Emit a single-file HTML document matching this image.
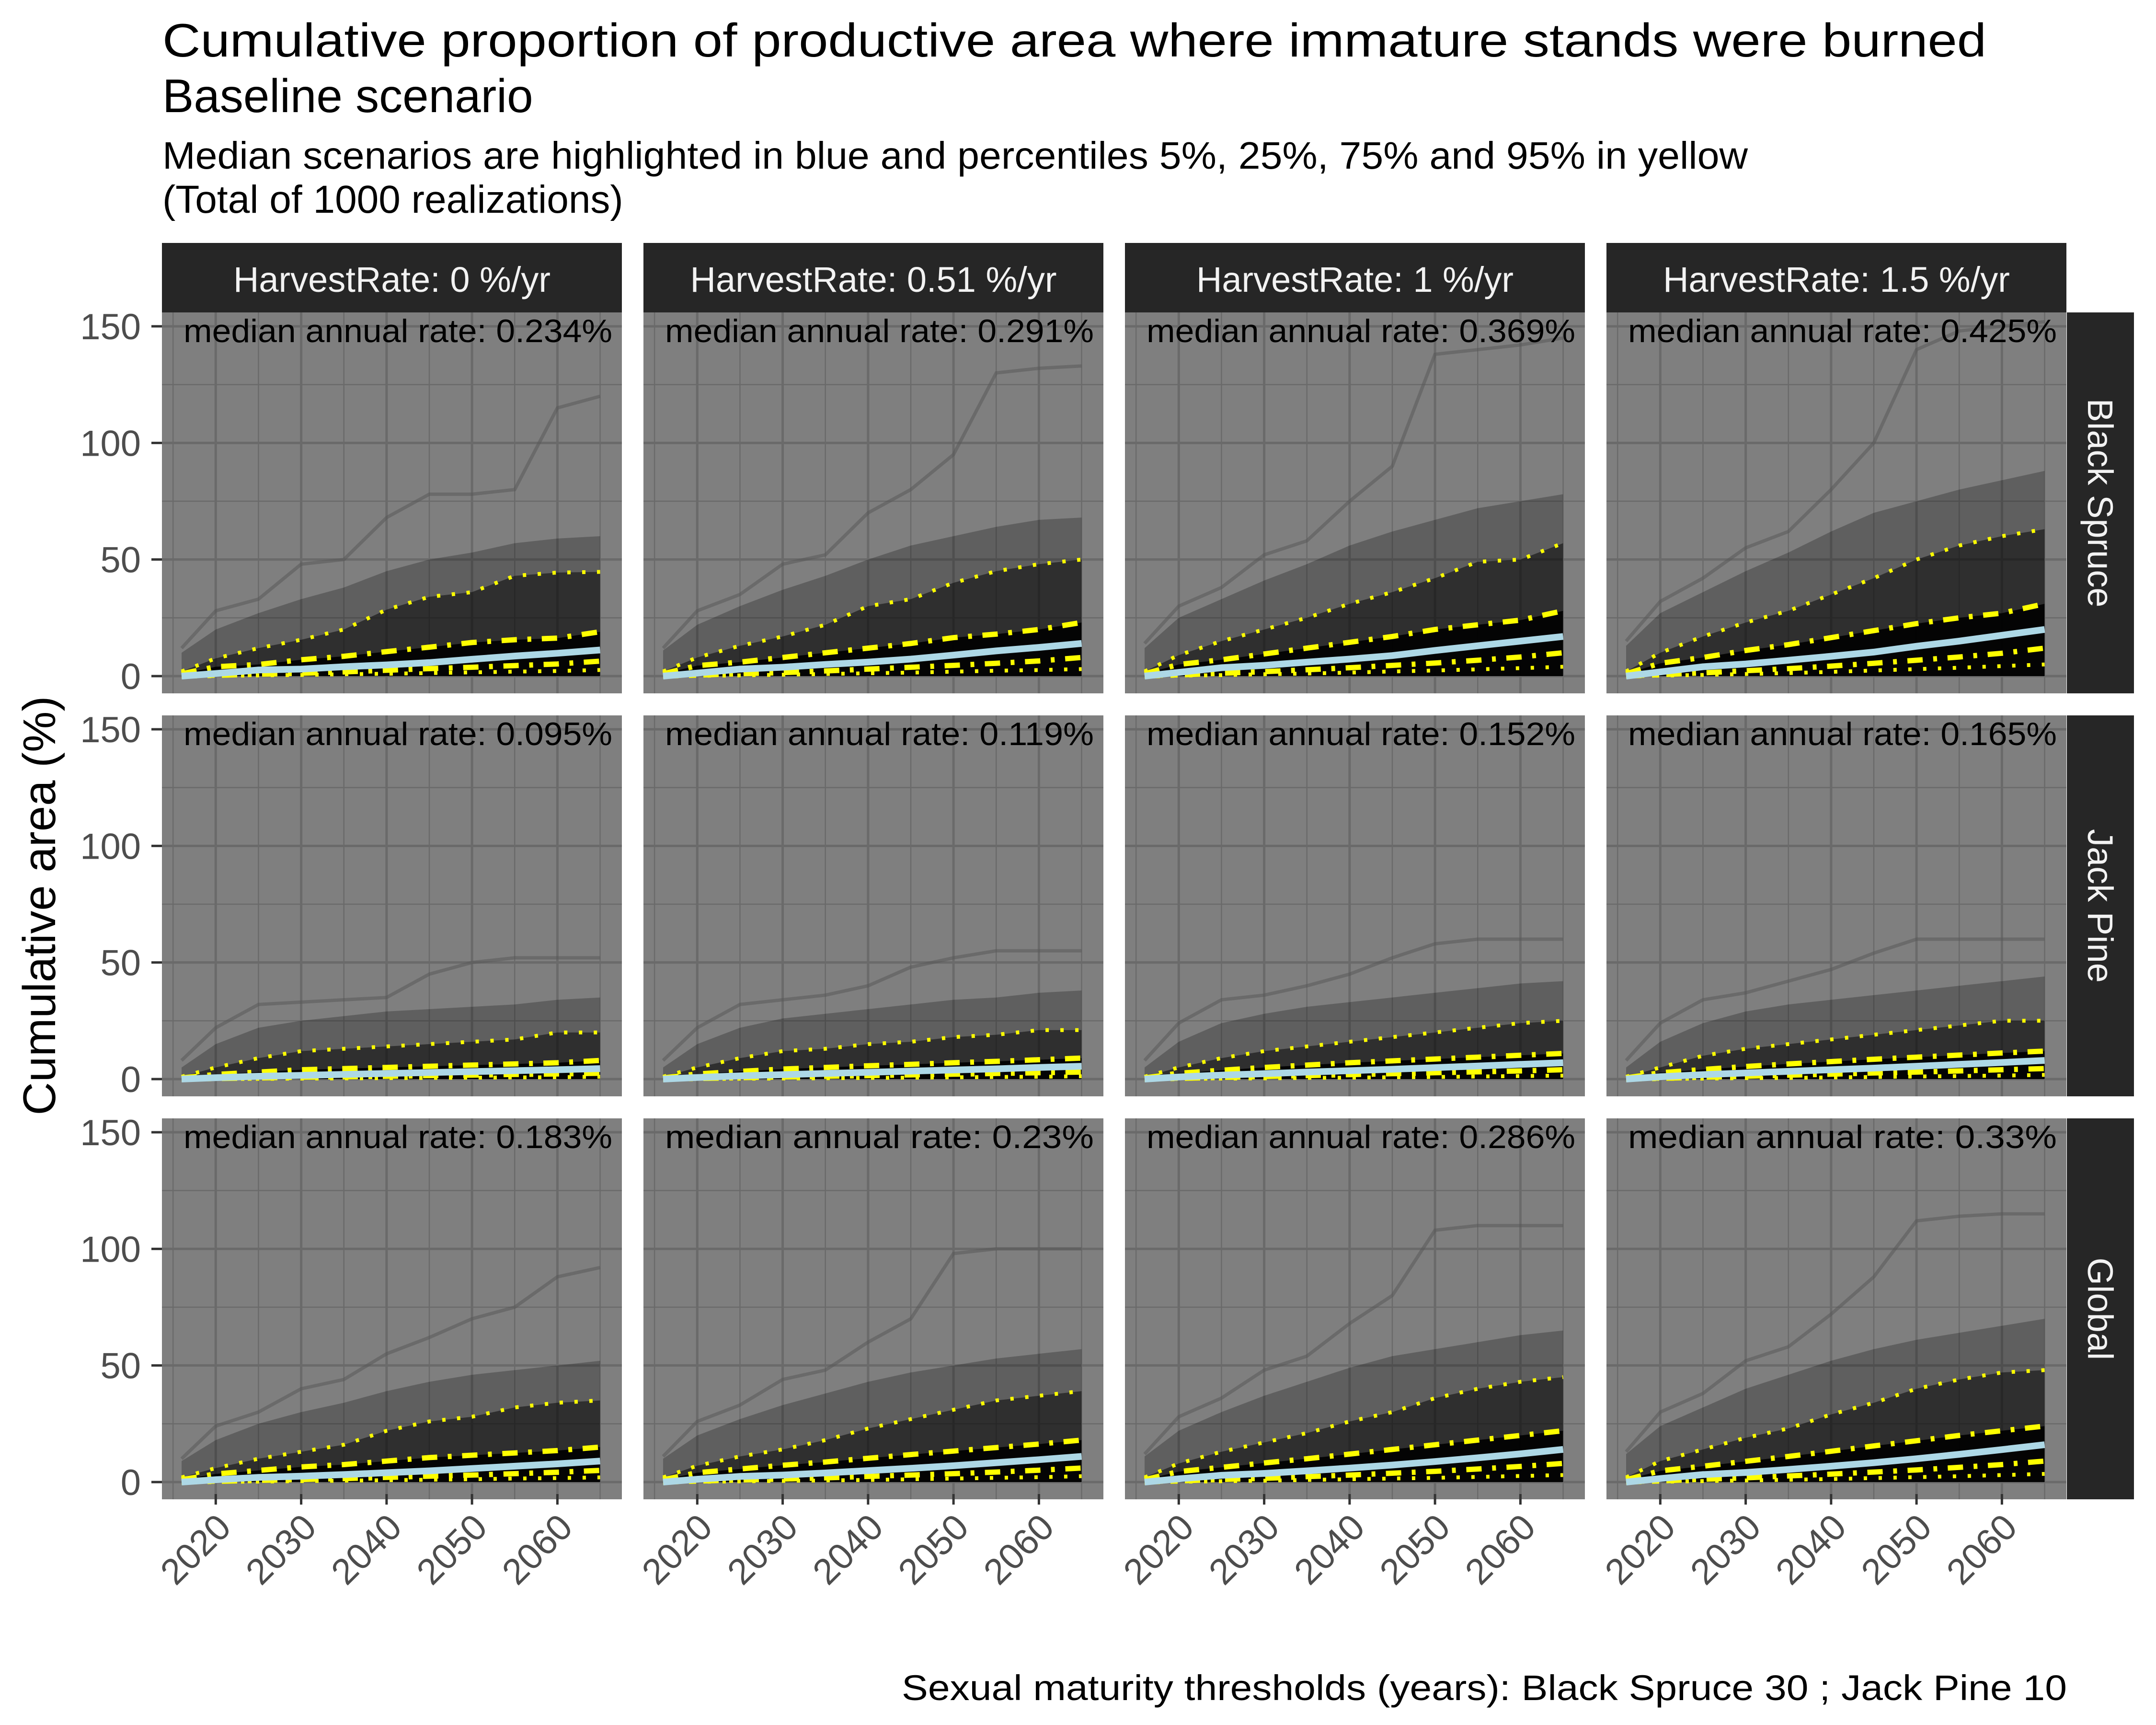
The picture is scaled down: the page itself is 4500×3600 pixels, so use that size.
<!DOCTYPE html>
<html><head><meta charset="utf-8"><style>
html,body{margin:0;padding:0;background:#fff;}
svg{display:block;font-family:"Liberation Sans",sans-serif;}
</style></head><body>
<svg id="chart" width="4500" height="3600" viewBox="0 0 4500 3600" xmlns="http://www.w3.org/2000/svg">
<text x="339" y="118" font-size="98" fill="#000" textLength="3807" lengthAdjust="spacingAndGlyphs">Cumulative proportion of productive area where immature stands were burned</text>
<text x="339" y="234" font-size="98" fill="#000">Baseline scenario</text>
<text x="339" y="352" font-size="80" fill="#000" textLength="3309" lengthAdjust="spacingAndGlyphs">Median scenarios are highlighted in blue and percentiles 5%, 25%, 75% and 95% in yellow</text>
<text x="339" y="444" font-size="82" fill="#000">(Total of 1000 realizations)</text>
<text transform="translate(115,1890) rotate(-90)" text-anchor="middle" font-size="96" fill="#000">Cumulative area (%)</text>
<text x="4314" y="3548" text-anchor="end" font-size="74" fill="#000" textLength="2432" lengthAdjust="spacingAndGlyphs">Sexual maturity thresholds (years): Black Spruce 30 ; Jack Pine 10</text>
<g id="panels"></g>
</svg>
<script>
const years = [2016,2020,2025,2030,2035,2040,2045,2050,2055,2060,2065];
const colLabels = ["HarvestRate: 0 %/yr","HarvestRate: 0.51 %/yr","HarvestRate: 1 %/yr","HarvestRate: 1.5 %/yr"];
const rowLabels = ["Black Spruce","Jack Pine","Global"];
const rates = [["0.234%","0.291%","0.369%","0.425%"],["0.095%","0.119%","0.152%","0.165%"],["0.183%","0.23%","0.286%","0.33%"]];
const xTicks = [2020,2030,2040,2050,2060];
const yTicks = [0,50,100,150];
const p95 = [
 [2,7.6,12,15.6,20,28.5,34,36,43,44.4,44.7],[2,8,13,17,22,30,33,40,45,48,50],[2,9,15,20,25,31,36,42,49,50,57],[2,10,17,23,28,35,42,50,56,60,63],
 [1,5,9,12,13,14,15,16,17,20,20],[1,5,9,12,13,15,16,18,19,21,21],[1,5,9,12,14,16,18,20,22,24,25],[1,5,10,13,15,17,19,21,23,25,25],
 [2,6,10,13,16,22,26,28,32,34,35],[2,7,11,14,18,23,27,31,35,37,39],[2,8,13,17,21,26,30,36,40,43,45],[2,9,14,19,23,29,34,40,44,47,48]];
const p75 = [
 [1,4,5,7,8.5,10.5,12.4,14.4,15.6,16.3,19],[1,4.5,6,8,10,12,14,16.5,18,20,23],[1,5,7,9.5,12,14.5,17,20,22,24,28],[1,5.5,8,11,13.5,16.5,19.5,22.5,25,27,31],
 [.5,2,3,4,4.5,5,5.5,6,6.5,7,8],[.5,2.2,3.3,4.3,5,5.7,6.3,7,7.6,8.3,9],[.5,2.5,3.8,5,6,7,7.8,8.6,9.4,10.2,11],[.5,2.7,4.1,5.4,6.5,7.5,8.5,9.4,10.3,11.2,12],
 [1,3.5,5,6.5,7.5,9,10.5,11.5,12.5,13.5,15],[1,4,5.6,7.2,8.6,10.2,11.8,13.3,14.8,16.3,18],[1,4.5,6.3,8.2,10,12,14,16,18,20,22],[1,4.8,6.8,8.9,11,13.2,15.5,17.7,20,22,24]];
const median = [
 [0,1.1,2.6,3,4,4.8,5.8,7.2,8.6,9.8,11.2],[0,1.3,3,3.8,5,6,7.3,9,10.8,12.3,14],[0,1.6,3.6,4.6,6,7.3,8.8,11,13,15,17],[0,1.8,4,5.2,6.8,8.5,10.3,12.8,15,17.5,20],
 [0,.6,1.2,1.6,2,2.4,2.8,3.2,3.6,4,4.5],[0,.7,1.4,1.9,2.4,2.9,3.4,3.9,4.4,5,5.5],[0,.9,1.7,2.3,3,3.6,4.2,4.9,5.6,6.3,7],[0,1,1.9,2.6,3.3,4,4.7,5.5,6.3,7.1,8],
 [0,1,2,2.5,3.2,4,4.8,5.8,6.8,7.8,9],[0,1.2,2.4,3,3.9,4.9,5.9,7,8.3,9.6,11],[0,1.4,2.9,3.7,4.8,6,7.3,8.8,10.4,12.1,14],[0,1.5,3.2,4.1,5.4,6.8,8.3,10,11.9,13.9,16]];
const p25 = [
 [0,.3,.8,1.2,1.8,2.5,3.2,3.8,4.5,5.2,6.4],[0,.4,1,1.5,2.2,3,3.8,4.6,5.5,6.5,8],[0,.5,1.2,1.9,2.7,3.6,4.6,5.6,6.8,8.2,10],[0,.6,1.4,2.3,3.2,4.3,5.5,6.8,8.2,9.8,12],
 [0,.2,.5,.8,1,1.2,1.5,1.7,2,2.2,2.5],[0,.25,.6,.9,1.2,1.5,1.8,2.1,2.4,2.7,3],[0,.3,.7,1.1,1.5,1.9,2.3,2.7,3.1,3.5,4],[0,.3,.8,1.2,1.7,2.1,2.6,3,3.5,4,4.5],
 [0,.3,.7,1.1,1.5,2,2.5,3,3.6,4.2,5],[0,.4,.9,1.3,1.8,2.4,3,3.6,4.3,5.1,6],[0,.5,1.1,1.6,2.3,3,3.8,4.6,5.6,6.7,8],[0,.5,1.2,1.8,2.6,3.4,4.3,5.2,6.3,7.5,9]];
const p5 = [
 [0,.1,.3,.5,.8,1,1.3,1.6,1.9,2.2,2.6],[0,.1,.3,.6,.9,1.2,1.5,1.9,2.3,2.6,3],[0,.2,.4,.8,1.1,1.5,2,2.4,2.9,3.4,4],[0,.2,.5,.9,1.3,1.8,2.4,3,3.6,4.3,5],
 [0,.05,.1,.2,.3,.4,.5,.6,.7,.8,1],[0,.05,.15,.25,.35,.5,.6,.75,.9,1,1.2],[0,.1,.2,.3,.5,.6,.8,.9,1.1,1.3,1.5],[0,.1,.2,.4,.5,.7,.9,1.1,1.3,1.5,1.8],
 [0,.1,.2,.4,.6,.8,1,1.2,1.5,1.7,2],[0,.1,.3,.5,.7,.9,1.2,1.5,1.8,2.1,2.5],[0,.15,.35,.6,.9,1.2,1.5,1.8,2.2,2.6,3],[0,.15,.4,.7,1,1.3,1.7,2.1,2.5,3,3.5]];
const p99 = [
 [10,20,27,33,38,45,50,53,57,59,60],[11,22,30,37,43,50,56,60,64,67,68],[12,25,33,41,48,56,62,67,72,75,78],[13,27,36,45,53,62,70,75,80,84,88],
 [5,15,22,25,27,29,30,31,32,34,35],[5,15,22,26,28,30,32,34,35,37,38],[5,16,24,28,31,33,35,37,39,41,42],[5,16,24,29,32,34,36,38,40,42,44],
 [9,18,25,30,34,39,43,46,48,50,52],[10,20,27,33,38,43,47,50,53,55,57],[11,22,30,37,43,49,54,57,60,63,65],[12,24,32,40,46,52,57,61,64,67,70]];
const maxLine = [
 [12,28,33,48,50,68,78,78,80,115,120],[12,28,35,48,52,70,80,95,130,132,133],[14,30,38,52,58,75,90,138,140,142,145],[15,32,42,55,62,80,100,140,148,150,152],
 [8,22,32,33,34,35,45,50,52,52,52],[8,22,32,34,36,40,48,52,55,55,55],[8,24,34,36,40,45,52,58,60,60,60],[8,24,34,37,42,47,54,60,60,60,60],
 [10,24,30,40,44,55,62,70,75,88,92],[11,26,33,44,48,60,70,98,100,100,100],[12,28,36,48,54,68,80,108,110,110,110],[13,30,38,52,58,72,88,112,114,115,115]];

const NS = "http://www.w3.org/2000/svg";
const colX = [338,1343,2348,3353], PW = 960;
const rowY = [652,1493,2334], PH = 795;
const X0 = 2013.7, X1 = 2067.55, Y0 = -7.4, Y1 = 155.96;
function xs(c, yr){ return colX[c] + (yr - X0) / (X1 - X0) * PW; }
function ys(r, v){ return rowY[r] + PH - (v - Y0) / (Y1 - Y0) * PH; }
function mk(tag, attrs, parent){ const e = document.createElementNS(NS, tag); for (const k in attrs) e.setAttribute(k, attrs[k]); parent.appendChild(e); return e; }
function pts(r, c, arr){ return arr.map((v,i)=> xs(c, years[i]).toFixed(1) + "," + ys(r, v).toFixed(1)).join(" "); }
function area(r, c, arr){ return pts(r,c,arr) + " " + xs(c,years[years.length-1]).toFixed(1)+","+ys(r,0).toFixed(1) + " " + xs(c,years[0]).toFixed(1)+","+ys(r,0).toFixed(1); }
const root = document.getElementById("panels");

for (let c = 0; c < 4; c++) {
  const st = mk("rect", {x: colX[c], y: 507, width: PW, height: 145, fill: "#262626"}, root);
  
  
  const stt = mk("text", {x: colX[c] + PW/2, y: 609, "text-anchor": "middle", "font-size": 74, fill: "#f2f2f2"}, root);
  stt.textContent = colLabels[c];
  
  
}
for (let r = 0; r < 3; r++) {
  const rs = mk("rect", {x: 4314, y: rowY[r], width: 140, height: PH, fill: "#262626"}, root);
  
  
  const rt = mk("text", {transform: "translate(4358," + (rowY[r] + PH/2) + ") rotate(90)", "text-anchor": "middle", "font-size": 74, fill: "#f2f2f2"}, root);
  rt.textContent = rowLabels[r];
  
  
  yTicks.forEach(t => {
    const y = ys(r, t);
    const tk = mk("line", {x1: 316, x2: 338, y1: y, y2: y, stroke: "#333", "stroke-width": 5}, root);
    
    
    const tl = mk("text", {x: 294, y: y + 27, "text-anchor": "end", "font-size": 76, fill: "#4d4d4d"}, root);
    tl.textContent = t;
    
    
  });
  for (let c = 0; c < 4; c++) {
    const i = r*4 + c;
    const g = mk("g", {}, root);
    
    
    mk("rect", {x: colX[c], y: rowY[r], width: PW, height: PH, fill: "#7f7f7f"}, g);
    for (let yr = 2015; yr <= 2065; yr += 5) {
      const major = yr % 10 === 0;
      mk("line", {x1: xs(c,yr), x2: xs(c,yr), y1: rowY[r], y2: rowY[r]+PH, stroke: "#6a6a6a", "stroke-width": major ? 5 : 2.5}, g);
    }
    for (let v = 0; v <= 150; v += 25) {
      const major = v % 50 === 0;
      mk("line", {x1: colX[c], x2: colX[c]+PW, y1: ys(r,v), y2: ys(r,v), stroke: "#6a6a6a", "stroke-width": major ? 5 : 2.5}, g);
    }
    const ml = mk("polyline", {points: pts(r,c,maxLine[i]), fill: "none", stroke: "#555", "stroke-opacity": 0.5, "stroke-width": 7}, g);
    
    
    const a1 = mk("polygon", {points: area(r,c,p99[i]), fill: "#000", "fill-opacity": 0.25}, g);
    
    
    const a2 = mk("polygon", {points: area(r,c,p95[i]), fill: "#000", "fill-opacity": 0.5}, g);
    
    
    const a3 = mk("polygon", {points: area(r,c,p75[i]), fill: "#000", "fill-opacity": 0.9}, g);
    
    
    const l95 = mk("polyline", {points: pts(r,c,p95[i]), fill: "none", stroke: "#ffff00", "stroke-width": 8, "stroke-dasharray": "7 24"}, g);
    
    
    const l75 = mk("polyline", {points: pts(r,c,p75[i]), fill: "none", stroke: "#ffff00", "stroke-width": 11, "stroke-dasharray": "32 22 8 22"}, g);
    
    
    const l5 = mk("polyline", {points: pts(r,c,p5[i]), fill: "none", stroke: "#ffff00", "stroke-width": 8, "stroke-dasharray": "7 24"}, g);
    
    
    const l25 = mk("polyline", {points: pts(r,c,p25[i]), fill: "none", stroke: "#ffff00", "stroke-width": 11, "stroke-dasharray": "32 22 8 22"}, g);
    
    
    const l50 = mk("polyline", {points: pts(r,c,median[i]), fill: "none", stroke: "#add8e6", "stroke-width": 14}, g);
    
    
    const ann = mk("text", {x: colX[c] + 45, y: rowY[r] + 62, "font-size": 68, fill: "#000", textLength: 895, lengthAdjust: "spacingAndGlyphs"}, g);
    ann.textContent = "median annual rate: " + rates[r][c];
    
    
  }
}
for (let c = 0; c < 4; c++) {
  xTicks.forEach(t => {
    const x = xs(c, t);
    const tk = mk("line", {x1: x, x2: x, y1: 3118, y2: 3140, stroke: "#333", "stroke-width": 5}, root);
    
    
    const tl = mk("text", {transform: "translate(" + (x + 36) + ",3192) rotate(-45)", "text-anchor": "end", "font-size": 76, fill: "#4d4d4d"}, root);
    tl.textContent = t;
    
    
  });
}
</script>
</body></html>
